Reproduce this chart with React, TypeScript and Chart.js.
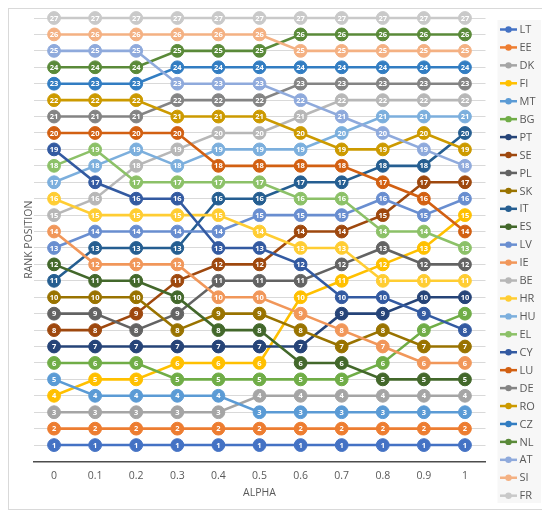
import React, { useEffect, useRef } from "react";
import { Chart, registerables } from "chart.js";

Chart.register(...registerables);

const alphas = ["0", "0.1", "0.2", "0.3", "0.4", "0.5", "0.6", "0.7", "0.8", "0.9", "1"];

const countries = [
  "LT", "EE", "DK", "FI", "MT", "BG", "PT", "SE", "PL", "SK", "IT", "ES", "LV", "IE",
  "BE", "HR", "HU", "EL", "CY", "LU", "DE", "RO", "CZ", "NL", "AT", "SI", "FR",
];

const colors = [
  "#4472C4", "#ED7D31", "#A5A5A5", "#FFC000", "#5B9BD5", "#70AD47",
  "#264478", "#9E480E", "#636363", "#997300", "#255E91", "#43682B",
  "#698ED0", "#F1975A", "#B7B7B7", "#FFCD33", "#7CAFDD", "#8CC168",
  "#335AA1", "#D26012", "#848484", "#CC9A00", "#327DC2", "#5A8A39",
  "#8FAADC", "#F4B183", "#C9C9C9",
];

const LT = [1, 1, 1, 1, 1, 1, 1, 1, 1, 1, 1];
const EE = [2, 2, 2, 2, 2, 2, 2, 2, 2, 2, 2];
const DK = [3, 3, 3, 3, 3, 4, 4, 4, 4, 4, 4];
const FI = [4, 5, 5, 6, 6, 6, 10, 11, 12, 13, 15];
const MT = [5, 4, 4, 4, 4, 3, 3, 3, 3, 3, 3];
const BG = [6, 6, 6, 5, 5, 5, 5, 5, 6, 8, 9];
const PT = [7, 7, 7, 7, 7, 7, 7, 9, 9, 10, 10];
const SE = [8, 8, 9, 11, 12, 12, 14, 14, 15, 17, 17];
const PL = [9, 9, 8, 9, 11, 11, 11, 12, 13, 12, 12];
const SK = [10, 10, 10, 8, 9, 9, 8, 7, 8, 7, 7];
const IT = [11, 13, 13, 13, 16, 16, 17, 17, 18, 18, 20];
const ES = [12, 11, 11, 10, 8, 8, 6, 6, 5, 5, 5];
const LV = [13, 14, 14, 14, 14, 15, 15, 15, 16, 15, 16];
const IE = [14, 12, 12, 12, 10, 10, 9, 8, 7, 6, 6];
const BE = [15, 16, 18, 19, 20, 20, 21, 22, 22, 22, 22];
const HR = [16, 15, 15, 15, 15, 14, 13, 13, 11, 11, 11];
const HU = [17, 18, 19, 18, 19, 19, 19, 20, 21, 21, 21];
const EL = [18, 19, 17, 17, 17, 17, 16, 16, 14, 14, 13];
const CY = [19, 17, 16, 16, 13, 13, 12, 10, 10, 9, 8];
const LU = [20, 20, 20, 20, 18, 18, 18, 18, 17, 16, 14];
const DE = [21, 21, 21, 22, 22, 22, 23, 23, 23, 23, 23];
const RO = [22, 22, 22, 21, 21, 21, 20, 19, 19, 20, 19];
const CZ = [23, 23, 23, 24, 24, 24, 24, 24, 24, 24, 24];
const NL = [24, 24, 24, 25, 25, 25, 26, 26, 26, 26, 26];
const AT = [25, 25, 25, 23, 23, 23, 22, 21, 20, 19, 18];
const SI = [26, 26, 26, 26, 26, 26, 25, 25, 25, 25, 25];
const FR = [27, 27, 27, 27, 27, 27, 27, 27, 27, 27, 27];

const seriesRanks = [
  LT, EE, DK, FI, MT, BG, PT, SE, PL, SK, IT, ES, LV, IE,
  BE, HR, HU, EL, CY, LU, DE, RO, CZ, NL, AT, SI, FR,
];

const FONT = '"Open Sans", "Noto Sans", sans-serif';

const rankLabelPlugin = {
  id: "rankLabels",
  afterDatasetsDraw(chart: any) {
    const ctx = chart.ctx;
    ctx.save();
    ctx.font = `bold 7.5px ${FONT}`;
    ctx.fillStyle = "#ffffff";
    ctx.textAlign = "center";
    ctx.textBaseline = "middle";
    chart.data.datasets.forEach((ds: any, i: number) => {
      const meta = chart.getDatasetMeta(i);
      meta.data.forEach((pt: any, j: number) => {
        ctx.fillText(String(ds.data[j]), pt.x, pt.y + 0.5);
      });
    });
    ctx.restore();
  },
};

const legendPlugin = {
  id: "customLegend",
  afterDraw(chart: any) {
    const ctx = chart.ctx;
    const ca = chart.chartArea;
    const boxX = ca.right + 12;
    const boxY = 11;
    const boxW = 43.5;
    const boxH = 483;
    ctx.save();
    ctx.fillStyle = "#f7f7f7";
    ctx.fillRect(boxX, boxY, boxW, boxH);
    ctx.font = `11px ${FONT}`;
    ctx.textAlign = "left";
    ctx.textBaseline = "middle";
    countries.forEach((name, i) => {
      const y = 20.5 + i * 17.93;
      const x0 = ca.right + 14.5;
      ctx.strokeStyle = colors[i];
      ctx.lineWidth = 2.5;
      ctx.beginPath();
      ctx.moveTo(x0, y);
      ctx.lineTo(x0 + 17, y);
      ctx.stroke();
      ctx.fillStyle = colors[i];
      ctx.beginPath();
      ctx.arc(x0 + 8.5, y, 3.2, 0, Math.PI * 2);
      ctx.fill();
      ctx.fillStyle = "#595959";
      ctx.fillText(name, x0 + 19.5, y + 0.5);
    });
    ctx.restore();
  },
};

export default function App() {
  const canvasRef = useRef<HTMLCanvasElement | null>(null);

  useEffect(() => {
    if (!canvasRef.current) return;
    const datasets = countries.map((name, i) => ({
      label: name,
      data: seriesRanks[i],
      borderColor: colors[i],
      backgroundColor: colors[i],
      pointBackgroundColor: colors[i],
      pointBorderColor: colors[i],
      pointRadius: 6.4,
      pointBorderWidth: 1,
      pointHoverRadius: 6.4,
      borderWidth: 2.6,
      tension: 0,
      fill: false,
      clip: false as any,
      order: -i,
    }));

    const chart = new Chart(canvasRef.current, {
      type: "line",
      data: { labels: alphas, datasets },
      options: {
        animation: false,
        responsive: false,
        maintainAspectRatio: false,
        devicePixelRatio: 1,
        layout: { padding: { left: 8, top: 9, right: 57.5, bottom: 0 } },
        plugins: {
          legend: { display: false },
          tooltip: { enabled: false },
        },
        scales: {
          x: {
            type: "category",
            offset: true,
            grid: { display: false, drawTicks: false },
            border: { display: true, color: "#4d4d4d", width: 1.5 },
            ticks: {
              padding: 8,
              color: "#595959",
              font: { family: FONT, size: 10.5 },
              maxRotation: 0,
            },
            title: {
              display: true,
              text: "ALPHA",
              color: "#595959",
              font: { family: FONT, size: 10.5 },
              padding: { top: 0, bottom: 9.5 },
            },
            afterFit: (scale: any) => {
              scale.height = 47.5;
            },
          },
          y: {
            min: 0,
            max: 27,
            grid: {
              color: (c: any) => (c.tick && c.tick.value === 0 ? "rgba(0,0,0,0)" : "#d9d9d9"),
              lineWidth: 1,
              drawTicks: false,
            },
            border: { display: false },
            ticks: { display: false, stepSize: 1 },
            title: {
              display: true,
              text: "RANK POSITION",
              color: "#595959",
              font: { family: FONT, size: 10.5 },
              padding: { top: 6, bottom: 0 },
            },
            afterFit: (scale: any) => {
              scale.width = 16.5;
            },
          },
        },
      },
      plugins: [rankLabelPlugin, legendPlugin],
    });

    return () => chart.destroy();
  }, []);

  return (
    <div
      style={{
        width: 534,
        height: 500,
        border: "1px solid #d9d9d9",
        background: "#ffffff",
      }}
    >
      <canvas ref={canvasRef} width={534} height={500} style={{ display: "block" }} />
    </div>
  );
}
